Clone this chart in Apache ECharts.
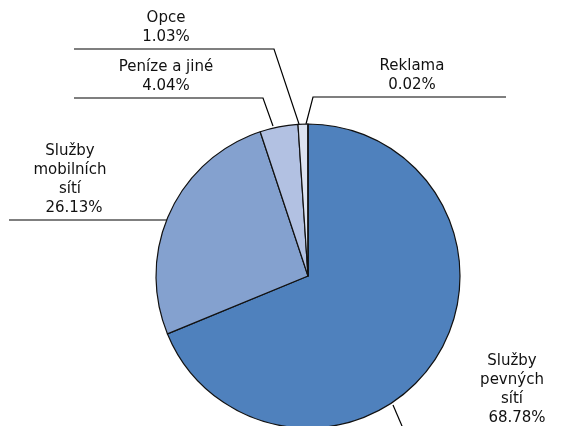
<!DOCTYPE html>
<html>
<head>
<meta charset="utf-8">
<script src="https://cdn.jsdelivr.net/npm/echarts@6/dist/echarts.min.js"></script>
<style>
  html, body { margin: 0; padding: 0; background: #fff; }
  #chart { width: 575px; height: 426px; }
</style>
</head>
<body>
<div id="chart"></div>
<script>
// ---- data ----
const categories = ['Služby pevných sítí', 'Služby mobilních sítí', 'Peníze a jiné', 'Opce', 'Reklama'];
const labelNames = ['Služby\npevných\nsítí', 'Služby\nmobilních\nsítí', 'Peníze a jiné', 'Opce', 'Reklama'];
const values = [68.78, 26.13, 4.04, 1.03, 0.02];

// ---- styling / layout (not data) ----
const colors = ['#4F81BD', '#84A1CF', '#B2C1E2', '#DCE3F1', '#F4F6FB'];
const labelPlacement = [
  { x: 512, y: 428, pad: 10, line: [[393, 405], [405, 433], [405, 433]] },
  { x: 70,  y: 218, pad: 8,  line: [[168, 220], [168, 220], [9, 220]] },
  { x: 166, y: 96,  pad: 0,  line: [[273, 126], [263, 98], [74, 98]] },
  { x: 166, y: 47,  pad: 0,  line: [[299, 124], [274, 49], [74, 49]] },
  { x: 412, y: 95,  pad: 0,  line: [[306, 124], [313, 97], [506, 97]] }
];

const FONT = 'DejaVu Sans';
const FS = 15;
const LH = 19;
const TXT = '#111111';

const chart = echarts.init(document.getElementById('chart'), null, { renderer: 'canvas' });

const data = categories.map((c, i) => ({
  name: c,
  value: values[i],
  itemStyle: { color: colors[i] },
  label: {
    formatter: '{n|' + labelNames[i].split('\n').join('}\n{n|') + '}\n{p' + i + '|' + values[i].toFixed(2) + '%}'
  }
}));

const rich = { n: { fontFamily: FONT, fontSize: FS, lineHeight: LH, color: TXT, align: 'center' } };
labelPlacement.forEach((lp, i) => {
  rich['p' + i] = { fontFamily: FONT, fontSize: FS, lineHeight: LH, color: TXT, align: 'center', padding: [0, 0, 0, lp.pad] };
});

chart.setOption({
  animation: false,
  backgroundColor: '#ffffff',
  series: [{
    type: 'pie',
    center: [308, 276],
    radius: 152,
    startAngle: 90,
    clockwise: true,
    avoidLabelOverlap: false,
    itemStyle: { borderColor: '#111', borderWidth: 1.2 },
    label: {
      show: true,
      position: 'outside',
      fontFamily: FONT,
      fontSize: FS,
      lineHeight: LH,
      color: TXT,
      align: 'center',
      rich: rich
    },
    labelLine: { show: true, lineStyle: { color: '#000', width: 1.2 }, smooth: false },
    labelLayout: function (params) {
      const lp = labelPlacement[params.dataIndex];
      return {
        x: lp.x,
        y: lp.y,
        align: 'center',
        verticalAlign: 'bottom',
        labelLinePoints: lp.line
      };
    },
    emphasis: { disabled: true },
    data: data
  }]
});
</script>
</body>
</html>
